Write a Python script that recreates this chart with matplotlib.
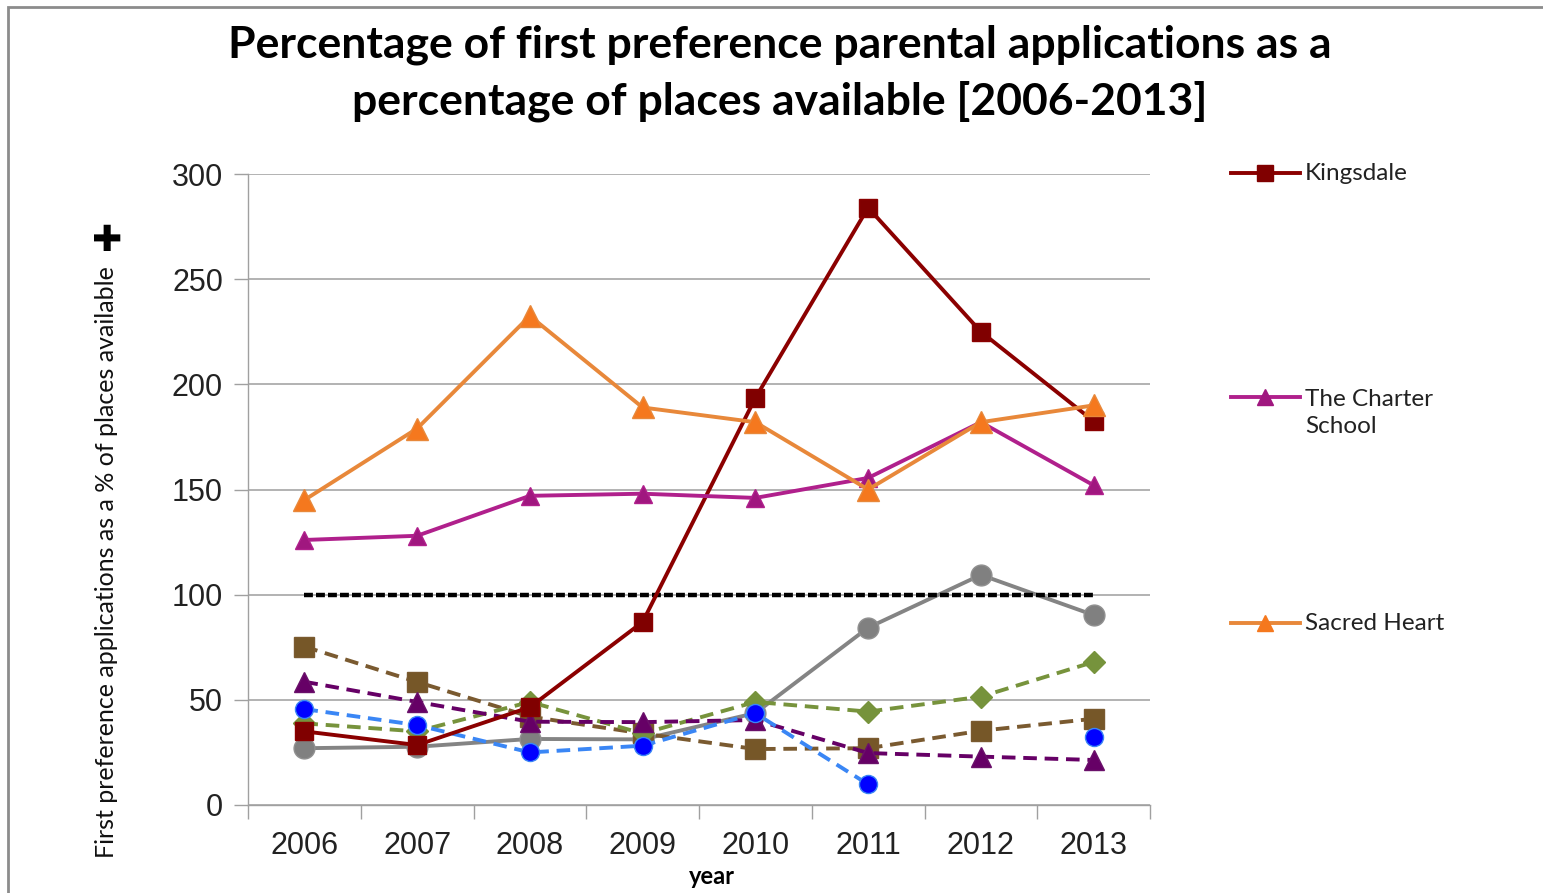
import matplotlib
matplotlib.use("Agg")
import matplotlib.pyplot as plt
from matplotlib.lines import Line2D
from matplotlib.patches import Rectangle
import numpy as np

years = [2006, 2007, 2008, 2009, 2010, 2011, 2012, 2013]

kingsdale = [35, 28.5, 46.5, 87, 193.5, 284, 225, 182.5]
charter = [126, 128, 147, 148, 146, 155.5, 182, 152]
sacred_heart = [145, 179, 232.5, 189, 182, 150, 182, 190]

# unlabelled schools (lower group)
grey_school = [27, 27.7, 31.4, 31.2, 43.7, 84.3, 109.4, 90.3]
brown_school = [75.3, 58.5, 42, 34, 26.6, 27, 35.3, 41]
green_school = [38.8, 35, 49, 34, 49, 44.4, 51.5, 68]
purple_school = [58.6, 49, 39.6, 39.4, 40.4, 24.7, 23, 21.4]
blue_school = [45.6, 38, 25, 28.2, 43.6, 9.8, np.nan, 32.1]
threshold = [100] * len(years)

W, H = 1543, 893
fig = plt.figure(figsize=(W / 100, H / 100), dpi=100)
ax = fig.add_axes([248 / W, 1 - 805 / H, (1150 - 248) / W, (805 - 174) / H])

lw = 2.8
dash = (0, (3.5, 2))
ax.plot(years, kingsdale, color='#8B0000', lw=lw, marker='s', ms=13.5,
        mfc='#800000', mec='#8B0000', zorder=5)
ax.plot(years, charter, color='#B0208C', lw=lw, marker='^', ms=13,
        mfc='#A0177F', mec='#B0208C', zorder=5)
ax.plot(years, sacred_heart, color='#E8883A', lw=lw, marker='^', ms=16,
        mfc='#F5781E', mec='#E8883A', zorder=6)

ax.plot(years, grey_school, color='#848484', lw=lw, marker='o', ms=15,
        mfc='#808080', mec='#909090', zorder=4)
ax.plot(years, brown_school, color='#7A5A30', lw=lw, ls=dash, marker='s',
        ms=15, mfc='#765728', mec='#7A5A30', zorder=4)
ax.plot(years, green_school, color='#77933C', lw=lw, ls=dash, marker='D',
        ms=11.5, mfc='#76933C', mec='#77933C', zorder=4)
ax.plot(years, purple_school, color='#660066', lw=lw, ls=dash, marker='^',
        ms=14, mfc='#660066', mec='#6A106A', zorder=4)
ax.plot(years, blue_school, color='#3A86F5', lw=lw, ls=dash, marker='o',
        ms=13, mfc='#0000FF', mec='#3A86F5', zorder=4)
ax.plot(years, threshold, color='black', lw=3.2, ls=(0, (2, 0.7)), zorder=4.5)

ax.set_xlim(2005.5, 2013.5)
ax.set_ylim(0, 300)
ax.set_yticks(range(0, 301, 50))
ax.set_xticks(years)
ax.set_xticks(np.arange(2005.5, 2014, 1), minor=True)
ax.tick_params(axis='x', which='major', length=0, pad=19, labelsize=22)
ax.tick_params(axis='x', which='minor', length=10, color='#A0A0A0', width=1)
ax.tick_params(axis='y', length=10, color='#A0A0A0', width=1, labelsize=22, pad=8)
for lab in ax.get_xticklabels() + ax.get_yticklabels():
    lab.set_fontfamily('Liberation Sans')
    lab.set_color('#222222')
ax.grid(axis='y', color='#A6A6A6', lw=1.2)
ax.set_axisbelow(True)
for s in ['top', 'right']:
    ax.spines[s].set_visible(False)
for s in ['left', 'bottom']:
    ax.spines[s].set_color('#A0A0A0')
    ax.spines[s].set_linewidth(1)

fig.text(780 / W, 1 - 73 / H,
         'Percentage of first preference parental applications as a\n'
         'percentage of places available [2006-2013]',
         ha='center', va='center', fontsize=32, fontweight='bold',
         family='Lato', linespacing=1.45)

fig.text(107 / W, 1 - 562 / H,
         'First preference applications as a % of places available',
         rotation=90, ha='center', va='center', fontsize=18, family='Lato',
         color='#111111')
fig.text(107 / W, 1 - 241 / H, '\u271a', ha='center', va='center',
         fontsize=26, family='DejaVu Sans', color='black')
fig.text(712 / W, 1 - 876 / H, 'year', ha='center', va='center',
         fontsize=17, fontweight='bold', family='Lato')

# legend entries (placed like the original, uneven spacing)
legend_items = [
    ('Kingsdale', '#8B0000', 's', '#800000', 11, 173),
    ('The Charter\nSchool', '#B0208C', '^', '#A0177F', 11, 413),
    ('Sacred Heart', '#E8883A', '^', '#F5781E', 12, 623),
]
for label, col, mk, mfc, ms, yc in legend_items:
    line_y = yc if '\n' not in label else yc - 16
    fig.add_artist(Line2D([1231 / W, 1300 / W], [1 - line_y / H] * 2,
                          color=col, lw=2.8, transform=fig.transFigure))
    fig.add_artist(Line2D([1265 / W], [1 - line_y / H], marker=mk, ms=ms,
                          mfc=mfc, mec=mfc, transform=fig.transFigure))
    fig.text(1305 / W, 1 - yc / H, label, ha='left', va='center',
             fontsize=17.5, family='Lato', color='#222222', linespacing=1.4)

# outer chart frame
fig.add_artist(Rectangle((8 / W, -0.1), 1.2, 1 - 7 / H + 0.1, fill=False,
                         ec='#8C8C8C', lw=2, transform=fig.transFigure))

fig.savefig('out.png', dpi=100)
